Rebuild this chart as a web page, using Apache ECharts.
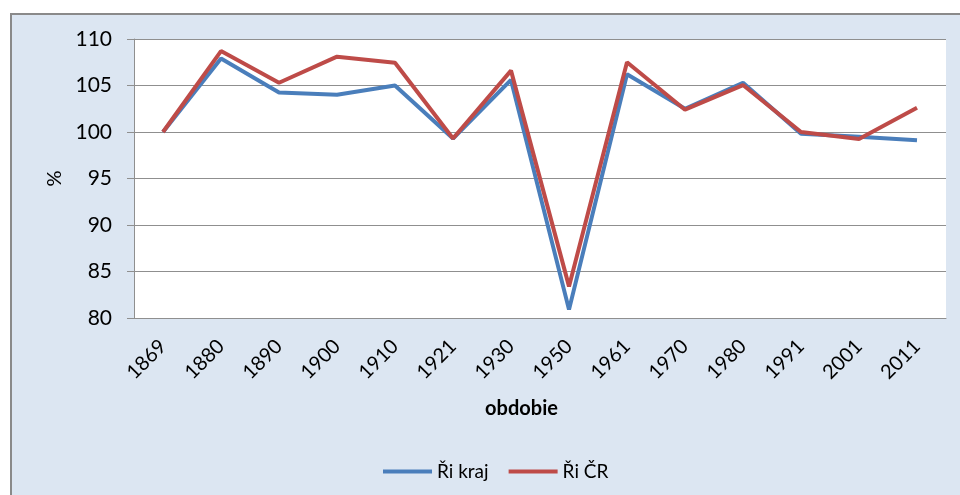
<!DOCTYPE html>
<html>
<head>
<meta charset="utf-8">
<script src="https://cdn.jsdelivr.net/npm/echarts@6/dist/echarts.min.js"></script>
<style>
  html, body { margin: 0; padding: 0; background: #fff; }
  #chart { width: 960px; height: 495px; }
</style>
</head>
<body>
<div id="chart"></div>
<script>
// obdobia (roky sčítania)
const years = ['1869', '1880', '1890', '1900', '1910', '1921', '1930', '1950', '1961', '1970', '1980', '1991', '2001', '2011']
// index vývoja v %
const riKraj = [100, 107.9, 104.25, 104.0, 105.0, 99.3, 105.6, 80.9, 106.2, 102.5, 105.3, 99.8, 99.5, 99.1]
const riCR = [100, 108.7, 105.3, 108.1, 107.45, 99.3, 106.6, 83.4, 107.5, 102.4, 105.05, 100.0, 99.25, 102.6]

const font = 'Lato, "Open Sans", sans-serif'
const gridColor = '#8f8f8f'

const myChart = echarts.init(document.getElementById('chart'))

const option = {
    animation: false,
    graphic: [
        {
            type: 'rect',
            z: -10,
            shape: { x: 11, y: 14, width: 960, height: 500 },
            style: { fill: '#dce6f2', stroke: '#8a8a8a', lineWidth: 2 }
        }
    ],
    grid: {
        left: 134,
        right: 14,
        top: 39,
        bottom: 177,
        show: true,
        backgroundColor: '#ffffff',
        borderWidth: 0
    },
    legend: {
        left: 378,
        top: 457,
        itemWidth: 49,
        itemHeight: 4,
        itemGap: 20,
        icon: 'rect',
        textStyle: { fontFamily: font, fontSize: 19, color: '#000' },
        data: ['Ři kraj', 'Ři ČR']
    },
    xAxis: {
        type: 'category',
        data: years,
        boundaryGap: true,
        name: 'obdobie',
        nameLocation: 'middle',
        nameGap: 81,
        nameTextStyle: {
            fontFamily: font, fontSize: 20, fontWeight: 'bold', color: '#000',
            padding: [0, 37, 0, 0]
        },
        axisLine: { lineStyle: { color: gridColor, width: 1 } },
        axisTick: { show: false },
        axisLabel: {
            rotate: 45,
            margin: 25,
            fontFamily: font,
            fontSize: 20,
            color: '#000'
        }
    },
    yAxis: {
        type: 'value',
        min: 80,
        max: 110,
        interval: 5,
        name: '%',
        nameLocation: 'middle',
        nameGap: 69,
        nameTextStyle: { fontFamily: font, fontSize: 20, color: '#000' },
        axisLine: { show: true, lineStyle: { color: gridColor, width: 1 } },
        axisTick: { show: true, length: 7, lineStyle: { color: gridColor } },
        axisLabel: {
            margin: 22,
            fontFamily: font,
            fontSize: 21,
            color: '#000'
        },
        splitLine: { lineStyle: { color: gridColor, width: 1 } }
    },
    series: [
        {
            name: 'Ři kraj',
            type: 'line',
            data: riKraj,
            symbol: 'none',
            itemStyle: { color: '#4a7ebb' },
            lineStyle: { color: '#4a7ebb', width: 4 }
        },
        {
            name: 'Ři ČR',
            type: 'line',
            data: riCR,
            symbol: 'none',
            itemStyle: { color: '#be4b48' },
            lineStyle: { color: '#be4b48', width: 4 }
        }
    ]
}

myChart.setOption(option)
</script>
</body>
</html>
